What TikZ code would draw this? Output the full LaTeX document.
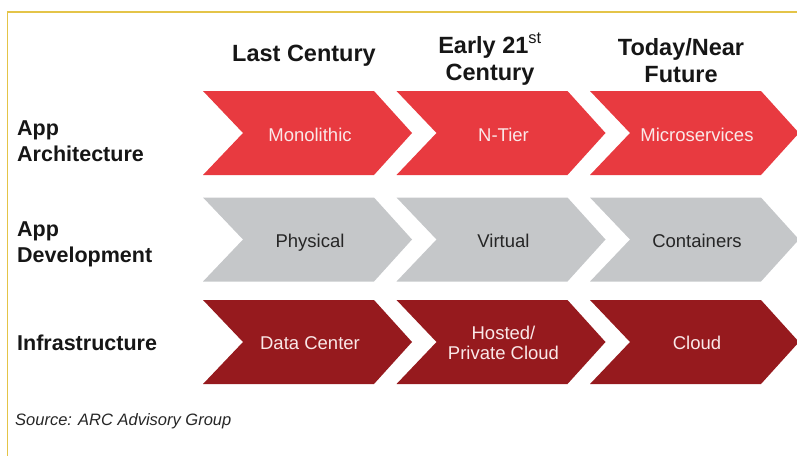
\documentclass[tikz,border=0pt]{standalone}
\usepackage{fontspec}
\setmainfont{Liberation Sans}
\definecolor{brightred}{RGB}{232,58,64}
\definecolor{steelgray}{RGB}{197,199,201}
\definecolor{darkred}{RGB}{150,26,30}
\definecolor{framegold}{RGB}{228,196,72}
\definecolor{inkblack}{RGB}{22,22,22}
\definecolor{lighttext}{RGB}{250,232,232}
\definecolor{graytext}{RGB}{38,38,38}

% a chevron: left edge x, middle y, fill colour
\newcommand\chevron[3]{%
  \fill[#3] (#1,#2-42) -- ++(171,0) -- ++(38,42) -- ++(-38,42)
    -- ++(-171,0) -- ++(40,-42) -- cycle;}

\begin{document}
\begin{tikzpicture}[x=1pt,y=-1pt,
  header/.style={font=\fontsize{23.5}{27}\selectfont\bfseries, text=inkblack,
    align=center, inner sep=0pt, anchor=base},
  rowlabel/.style={font=\fontsize{21.5}{25.5}\selectfont\bfseries, text=inkblack,
    align=left, inner sep=0pt, anchor=base west},
  steplabel/.style={font=\fontsize{18.5}{19.5}\selectfont, align=center,
    inner sep=0pt, anchor=base},
  onred/.style={steplabel, text=lighttext},
  ongray/.style={steplabel, text=graytext}]
\useasboundingbox (0,0) rectangle (797,455);
\clip (0,0) rectangle (797,455);

% frame
\draw[framegold, line width=1.4pt] (7.5,470) -- (7.5,12) -- (810,12);

% column headers (base = baseline of the last line)
\node[header] (hlast)  at (304,61) {Last Century};
\node[header] (hearly) at (490,80) {Early 21\textsuperscript{\mdseries st}\\Century};
\node[header] (htoday) at (681,82) {Today/Near\\Future};

% row labels
\node[rowlabel] (rarch)  at (17,161) {App\\Architecture};
\node[rowlabel] (rdev)   at (17,262) {App\\Development};
\node[rowlabel] (rinfra) at (17,350) {Infrastructure};

% chevrons
\chevron{203}{133}{brightred}
\chevron{396.5}{133}{brightred}
\chevron{590}{133}{brightred}
\chevron{203}{239.5}{steelgray}
\chevron{396.5}{239.5}{steelgray}
\chevron{590}{239.5}{steelgray}
\chevron{203}{342}{darkred}
\chevron{396.5}{342}{darkred}
\chevron{590}{342}{darkred}

% chevron labels
\node[onred] (mono)  at (310,141) {Monolithic};
\node[onred] (ntier) at (503.5,141) {N-Tier};
\node[onred] (micro) at (697,141) {Microservices};
\node[ongray] (phys) at (310,247.5) {Physical};
\node[ongray] (virt) at (503.5,247.5) {Virtual};
\node[ongray] (cont) at (697,247.5) {Containers};
\node[onred] (dc)    at (310,349) {Data Center};
\node[onred] (host)  at (503.5,359) {Hosted/\\Private Cloud};
\node[onred] (cloud) at (697,349) {Cloud};

% source line
\node[font=\fontsize{16.5}{19}\selectfont\itshape, text=graytext, inner sep=0pt,
  anchor=base west] (src) at (15,425) {Source: ARC Advisory Group};
\end{tikzpicture}
\end{document}
